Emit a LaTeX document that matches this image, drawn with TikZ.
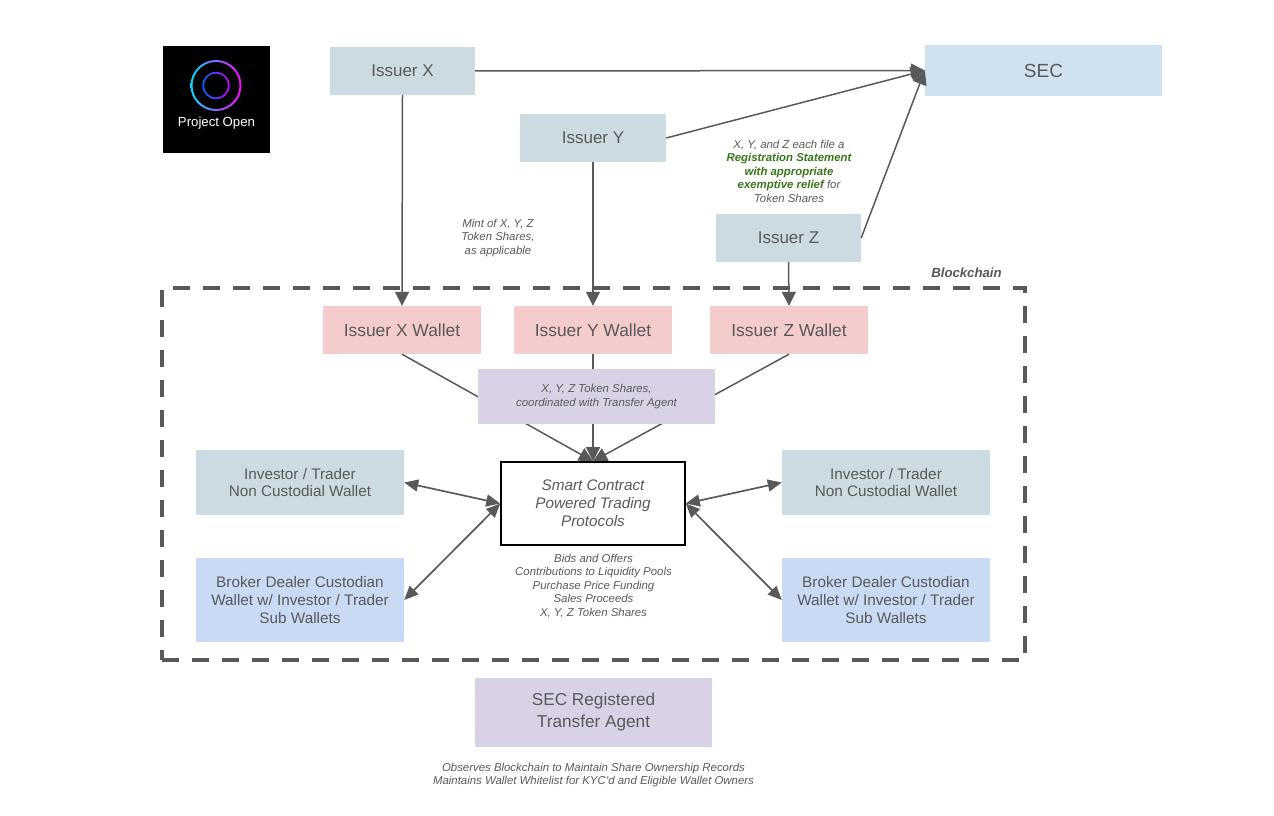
\documentclass[tikz,border=0pt]{standalone}
\usepackage{fontspec}
\setmainfont{Liberation Sans}
\usetikzlibrary{arrows.meta}
\definecolor{ink}{HTML}{595959}
\definecolor{issuerc}{HTML}{CCDBE1}
\definecolor{secc}{HTML}{CFE2F0}
\definecolor{walletc}{HTML}{F4CCCC}
\definecolor{purplec}{HTML}{D9D2E6}
\definecolor{brokerc}{HTML}{C9DAF5}
\definecolor{greenc}{HTML}{38761D}
\tikzset{
  boxn/.style={rectangle,inner sep=0pt,align=center,text=ink,font=\fontsize{17}{19}\selectfont},
  issuer/.style={boxn,fill=issuerc,minimum width=145pt,minimum height=48pt},
  wallet/.style={boxn,fill=walletc,minimum width=158pt,minimum height=48pt,font=\fontsize{17.4}{19}\selectfont},
  investor/.style={boxn,fill=issuerc,minimum width=208pt,minimum height=65pt,font=\fontsize{15.3}{17}\selectfont},
  broker/.style={boxn,fill=brokerc,minimum width=208pt,minimum height=84pt,font=\fontsize{15.3}{18}\selectfont},
  note/.style={inner sep=0pt,align=center,text=ink,font=\fontsize{11.4}{13.5}\selectfont\itshape},
  conn/.style={draw=ink,line width=1.5pt,-{Triangle[length=14pt,width=14pt]}},
  both/.style={draw=ink,line width=1.7pt,{Triangle[length=14pt,width=12pt]}-{Triangle[length=14pt,width=12pt]}},
}
\begin{document}
\begin{tikzpicture}[x=1pt,y=-1pt]
\useasboundingbox (0,0) rectangle (1274,816);
% blockchain frame
\node[draw=ink,line width=4pt,dash pattern=on 17pt off 13pt,rectangle,inner sep=0pt,minimum width=863pt,minimum height=372pt] (frame) at (593.5,474) {};
\node[inner sep=0pt,text=ink,font=\fontsize{13.2}{15}\selectfont\bfseries\itshape] (chainlabel) at (966.5,273) {Blockchain};
% logo
\node[rectangle,fill=black,minimum width=107pt,minimum height=107pt,inner sep=0pt] (logo) at (216,99.5) {};
\shade[even odd rule,left color=cyan!85!blue,right color=magenta] (216,85.5) circle (25.5pt) (216,85.5) circle (23.5pt);
\shade[even odd rule,left color=blue!60!cyan,right color=magenta!80!blue] (216,85.5) circle (13.7pt) (216,85.5) circle (12pt);
\node[inner sep=0pt,text=white,font=\fontsize{13.2}{15}\selectfont] (logotext) at (216.5,123) {Project Open};
% nodes
\node[issuer] (ix) at (402.5,71) {Issuer X};
\node[issuer,minimum width=146pt] (iy) at (593,138) {Issuer Y};
\node[issuer] (iz) at (788.5,238) {Issuer Z};
\node[boxn,fill=secc,minimum width=237pt,minimum height=51pt,font=\fontsize{19}{21}\selectfont] (sec) at (1043.5,70.5) {SEC};
\node[wallet] (wx) at (402,330) {Issuer X Wallet};
\node[wallet] (wy) at (593,330) {Issuer Y Wallet};
\node[wallet] (wz) at (789,330) {Issuer Z Wallet};
\node[rectangle,draw=black,line width=1.6pt,inner sep=0pt,minimum width=184pt,minimum height=83pt,align=center,text=ink,font=\fontsize{15.3}{18}\selectfont\itshape] (smart) at (593,503.5) {Smart Contract\\Powered Trading\\Protocols};
% connectors behind the purple box
\draw[conn] (wx.south) -- (smart.north);
\draw[conn] (wy.south) -- (smart.north);
\draw[conn] (wz.south) -- (smart.north);
\node[rectangle,fill=purplec,inner sep=0pt,minimum width=237pt,minimum height=55pt,align=center,text=ink,font=\fontsize{11.4}{13.5}\selectfont\itshape] (tok) at (596.5,396.5) {X, Y, Z Token Shares,\\coordinated with Transfer Agent};
\node[investor] (il) at (300,482.5) {Investor / Trader\\Non Custodial Wallet};
\node[investor] (ir) at (886,482.5) {Investor / Trader\\Non Custodial Wallet};
\node[broker] (bl) at (300,600) {Broker Dealer Custodian\\Wallet w/ Investor / Trader\\Sub Wallets};
\node[broker] (br) at (886,600) {Broker Dealer Custodian\\Wallet w/ Investor / Trader\\Sub Wallets};
\node[boxn,fill=purplec,minimum width=237pt,minimum height=69pt,font=\fontsize{17.2}{22}\selectfont] (ta) at (593.5,712.5) {SEC Registered\\Transfer Agent};
% connectors
\draw[conn] (ix.east) -- (sec.west);
\draw[conn] (iy.east) -- (sec.west);
\draw[conn] (iz.east) -- (sec.west);
\draw[conn] (ix.south) -- (wx.north);
\draw[conn] (iy.south) -- (wy.north);
\draw[conn] (iz.south) -- (wz.north);
\draw[both] (il.east) -- (smart.west);
\draw[both] (bl.east) -- (smart.west);
\draw[both] (ir.west) -- (smart.east);
\draw[both] (br.west) -- (smart.east);
% notes
\node[note] (mint) at (498,238) {Mint of X, Y, Z\\Token Shares,\\as applicable};
\node[note] (reg) at (789,171) {X, Y, and Z each file a\\{\color{greenc}\bfseries Registration Statement}\\{\color{greenc}\bfseries with appropriate}\\{\color{greenc}\bfseries exemptive relief} for\\Token Shares};
\node[note] (bids) at (593.5,586) {Bids and Offers\\Contributions to Liquidity Pools\\Purchase Price Funding\\Sales Proceeds\\X, Y, Z Token Shares};
\node[note] (obs) at (593.5,775) {Observes Blockchain to Maintain Share Ownership Records\\Maintains Wallet Whitelist for KYC'd and Eligible Wallet Owners};
\end{tikzpicture}
\end{document}
